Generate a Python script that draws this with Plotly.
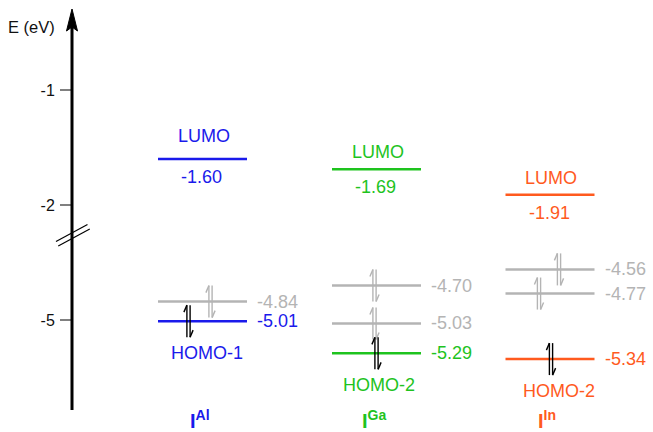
import plotly.graph_objects as go

# ---------------- data ----------------
compounds = ["Al", "Ga", "In"]
lumo_E = [-1.60, -1.69, -1.91]
homo_E = [-5.01, -5.29, -5.34]
homo_names = ["HOMO-1", "HOMO-2", "HOMO-2"]
gray_E = [[-4.84], [-4.70, -5.03], [-4.56, -4.77]]
tick_vals_E = [-1, -2, -5]

# ---------------- style / layout ----------------
colors = ["#1a1aeb", "#1ec31e", "#ff5a1e"]
gray = "#b4b4b4"
centers = [202.5, 376.5, 550]          # x centre of each column (x axis in px-like units)
half_w = 44.5
homo_e_dx = [-14, 0, 1]                 # electron-pair offsets
gray_e_dx = [[8], [-2, -2], [9, -11]]
lumo_label_up = [23, 17, 17]
label_dx = [4, 2, 9]
FONT = "Liberation Sans, Arial, sans-serif"
FS = 18

W, H = 653, 432
ML, MT, MB = 72, 8, 22
PW, PH = W - ML, H - MT - MB
PX_PER = 115.0
Y_TOP = -1 + (90 - MT) / PX_PER
Y_BOT = Y_TOP - PH / PX_PER


def t(E):
    """broken energy axis: values below -3 eV are shifted up by 2 eV"""
    return E if E > -3 else E + 2


def pxx(px):
    return (px - ML) / PW


def pxy(py):
    return (H - MB - py) / PH


fig = go.Figure()
shapes = []
ann = []


def electrons(xc, yc, col):
    h = 16 / PX_PER
    b = 7 / PX_PER
    segs = [
        (xc - 1.6, yc - h, xc - 1.6, yc + h),
        (xc - 1.6, yc + h, xc - 4.6, yc + h - b),
        (xc + 1.6, yc + h, xc + 1.6, yc - h),
        (xc + 1.6, yc - h, xc + 4.6, yc - h + b),
    ]
    for x0, y0, x1, y1 in segs:
        shapes.append(dict(type="line", xref="x", yref="y", x0=x0, y0=y0, x1=x1, y1=y1,
                           line=dict(color=col, width=1.4)))


for i, c in enumerate(compounds):
    xc = centers[i]
    col = colors[i]
    # gray levels
    for E, dx in zip(gray_E[i], gray_e_dx[i]):
        fig.add_trace(go.Scatter(x=[xc - half_w, xc + half_w], y=[t(E), t(E)], mode="lines",
                                 line=dict(color=gray, width=2.5), hoverinfo="skip", showlegend=False))
        electrons(xc + dx, t(E), gray)
        ann.append(dict(x=xc + half_w + 8, y=t(E), text=f"{E:.2f}", xanchor="left", yanchor="middle",
                        showarrow=False, font=dict(color=gray, size=FS, family=FONT)))
    # LUMO
    fig.add_trace(go.Scatter(x=[xc - half_w, xc + half_w], y=[t(lumo_E[i])] * 2, mode="lines",
                             line=dict(color=col, width=2.5), hoverinfo="skip", showlegend=False))
    ann.append(dict(x=xc + 1, y=t(lumo_E[i]), yshift=lumo_label_up[i], text="LUMO", showarrow=False,
                    font=dict(color=col, size=FS, family=FONT)))
    ann.append(dict(x=xc - 1, y=t(lumo_E[i]), yshift=-18, text=f"{lumo_E[i]:.2f}", showarrow=False,
                    font=dict(color=col, size=FS, family=FONT)))
    # HOMO
    fig.add_trace(go.Scatter(x=[xc - half_w, xc + half_w], y=[t(homo_E[i])] * 2, mode="lines",
                             line=dict(color=col, width=2.5), hoverinfo="skip", showlegend=False))
    electrons(xc + homo_e_dx[i], t(homo_E[i]), "black")
    ann.append(dict(x=xc + half_w + 8, y=t(homo_E[i]), text=f"{homo_E[i]:.2f}", xanchor="left",
                    yanchor="middle", showarrow=False, font=dict(color=col, size=FS, family=FONT)))
    ann.append(dict(x=xc + label_dx[i], y=t(homo_E[i]), yshift=-32, text=homo_names[i], showarrow=False,
                    font=dict(color=col, size=FS, family=FONT)))
    # compound label
    ann.append(dict(x=xc - 3, xref="x", xanchor="center", y=pxy(419), yref="paper", yanchor="middle",
                    text=f"<b>I<sup style='font-size:14px'>{c}</sup></b>", showarrow=False,
                    font=dict(color=col, size=20, family=FONT)))

# axis line with arrowhead
shapes.append(dict(type="line", xref="paper", yref="paper", x0=0, x1=0, y0=0, y1=pxy(26),
                   line=dict(color="black", width=3)))
shapes.append(dict(type="path", xref="paper", yref="paper",
                   path=(f"M {pxx(72)},{pxy(9)} L {pxx(66.5)},{pxy(31)} L {pxx(72)},{pxy(27)} "
                         f"L {pxx(77.5)},{pxy(31)} Z"),
                   fillcolor="black", line=dict(color="black", width=1)))
# axis break marks
for d in (0, 4.5):
    shapes.append(dict(type="line", xref="paper", yref="paper",
                       x0=pxx(56 + d * 0.5), y0=pxy(241.5 + d),
                       x1=pxx(87.5 + d * 0.5), y1=pxy(224.5 + d),
                       line=dict(color="black", width=1.2)))

ann.append(dict(x=pxx(31.5), xref="paper", xanchor="center", y=pxy(27), yref="paper",
                yanchor="middle", text="E (eV)", showarrow=False,
                font=dict(color="#111", size=16.5, family=FONT)))

fig.update_layout(
    width=W, height=H, margin=dict(l=ML, r=0, t=MT, b=MB),
    plot_bgcolor="white", paper_bgcolor="white",
    shapes=shapes, annotations=ann,
    xaxis=dict(range=[ML, W], visible=False, fixedrange=True),
    yaxis=dict(range=[Y_BOT, Y_TOP], showgrid=False, zeroline=False, showline=False,
               tickvals=[t(v) for v in tick_vals_E], ticktext=[str(v) for v in tick_vals_E],
               ticks="outside", ticklen=11, tickwidth=2, tickcolor="#808080",
               ticklabelstandoff=2,
               tickfont=dict(size=16, color="#111", family=FONT), fixedrange=True),
    showlegend=False,
)

fig.write_html("out.html", config={"displayModeBar": False},
               post_script="document.body.style.margin='0';")
